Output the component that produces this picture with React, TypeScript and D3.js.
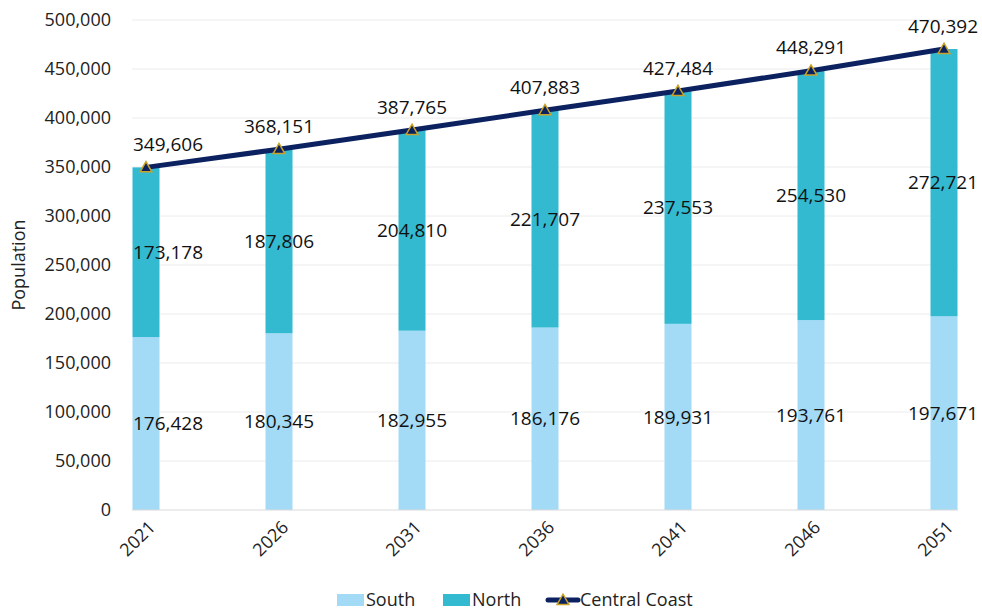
import React from "react";
import * as d3 from "d3";

const years = ["2021", "2026", "2031", "2036", "2041", "2046", "2051"];
const south = [176428, 180345, 182955, 186176, 189931, 193761, 197671];
const north = [173178, 187806, 204810, 221707, 237553, 254530, 272721];
const centralCoast = [349606, 368151, 387765, 407883, 427484, 448291, 470392];
const yTicks = [0, 50000, 100000, 150000, 200000, 250000, 300000, 350000, 400000, 450000, 500000];

const W = 982, H = 614;
const plotLeft = 132, plotRight = 958, plotTop = 20, plotBottom = 510;
const FONT = "'Open Sans', 'Noto Sans', sans-serif";
const SOUTH_C = "#a3daf6";
const NORTH_C = "#33bad1";
const LINE_C = "#0b2160";
const MARK_C = "#c9a227";

export default function App() {
  const x = d3.scalePoint<string>().domain(years).range([146, 944]);
  const y = d3.scaleLinear().domain([0, 500000]).range([plotBottom, plotTop]);
  const fmt = d3.format(",");
  const barW = 27;
  const half = 36;
  const clampX = (cx: number) => Math.max(plotLeft + half, Math.min(979 - half, cx));
  const line = d3.line<number>().x((_, i) => x(years[i])!).y((d) => y(d));
  const tri = d3.symbol().type(d3.symbolTriangle).size(60)();

  return (
    <svg width={W} height={H} style={{ position: "absolute", left: 0, top: 0, background: "#fff" }} fontFamily={FONT}>
      {yTicks.map((t) => (
        <g key={t}>
          {t > 0 && <line x1={plotLeft} x2={plotRight} y1={y(t)} y2={y(t)} stroke="#ececec" strokeWidth={1} />}
          <text x={111} y={y(t)} dy="0.35em" textAnchor="end" fontSize={18} fill="#222">{fmt(t)}</text>
        </g>
      ))}
      <text transform={`translate(25,${(plotTop + plotBottom) / 2}) rotate(-90)`} textAnchor="middle" fontSize={18} fill="#222">Population</text>
      {years.map((yr, i) => {
        const cx = x(yr)!;
        return (
          <g key={yr}>
            <rect x={cx - barW / 2} y={y(south[i])} width={barW} height={y(0) - y(south[i])} fill={SOUTH_C} />
            <rect x={cx - barW / 2} y={y(south[i] + north[i])} width={barW} height={y(south[i]) - y(south[i] + north[i])} fill={NORTH_C} />
          </g>
        );
      })}
      <line x1={plotLeft} x2={plotRight} y1={plotBottom} y2={plotBottom} stroke="#d9d9d9" strokeWidth={1} />
      {years.map((yr) => (
        <text key={yr} transform={`translate(${x(yr)! + 6},${plotBottom + 14}) rotate(-45)`} textAnchor="end" dy="0.35em" fontSize={18} fill="#222">{yr}</text>
      ))}
      <path d={line(centralCoast)!} fill="none" stroke={LINE_C} strokeWidth={5} strokeLinecap="round" />
      {years.map((yr, i) => (
        <path key={yr} d={tri} transform={`translate(${x(yr)},${y(centralCoast[i]) + 1})`} fill={LINE_C} stroke={MARK_C} strokeWidth={1.5} />
      ))}
      {years.map((yr, i) => {
        const lx = clampX(x(yr)!);
        return (
          <g key={yr} fontSize={19} fill="#111" textAnchor="middle">
            <text x={lx} y={y(south[i] / 2)} dy="0.35em">{fmt(south[i])}</text>
            <text x={lx} y={y(south[i] + north[i] / 2)} dy="0.35em">{fmt(north[i])}</text>
            <text x={lx} y={y(centralCoast[i]) - 23} dy="0.35em">{fmt(centralCoast[i])}</text>
          </g>
        );
      })}
      <g fontSize={18} fill="#222">
        <rect x={337} y={594} width={27} height={12} fill={SOUTH_C} />
        <text x={366} y={600} dy="0.35em">South</text>
        <rect x={443} y={594} width={27} height={12} fill={NORTH_C} />
        <text x={472} y={600} dy="0.35em">North</text>
        <line x1={548} x2={578} y1={600} y2={600} stroke={LINE_C} strokeWidth={5} strokeLinecap="round" />
        <path d={tri} transform="translate(563,601)" fill={LINE_C} stroke={MARK_C} strokeWidth={1.5} />
        <text x={580} y={600} dy="0.35em">Central Coast</text>
      </g>
    </svg>
  );
}
